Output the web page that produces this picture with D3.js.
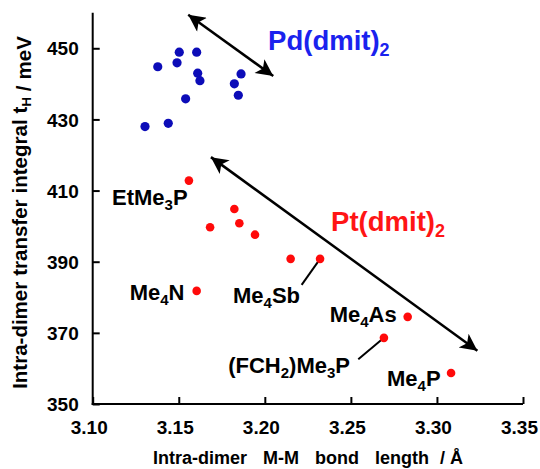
<!DOCTYPE html>
<html><head><meta charset="utf-8">
<script src="https://cdn.jsdelivr.net/npm/d3@7"></script>
<style>
html,body{margin:0;padding:0;background:#fff;}
svg{display:block;font-family:"Liberation Sans",Arial,sans-serif;font-weight:bold;}
</style></head>
<body>
<svg id="chart" width="540" height="469"></svg>
<script>
// ---- data ----
const pdX = [3.1304, 3.1439, 3.1378, 3.1503, 3.1604, 3.1490, 3.1610, 3.1623, 3.1540, 3.1862, 3.1823, 3.1846];
const pdY = [428.0, 428.9, 444.8, 448.9, 448.9, 445.9, 443.0, 440.9, 435.8, 442.8, 440.0, 436.8];
const ptX = [3.1559, 3.1823, 3.1682, 3.1852, 3.1943, 3.2150, 3.2321, 3.1604, 3.2830, 3.2692, 3.3082];
const ptY = [412.8, 404.8, 399.7, 400.8, 397.6, 390.8, 390.8, 381.8, 374.5, 368.6, 358.7];
const xTicks = [3.10, 3.15, 3.20, 3.25, 3.30, 3.35];
const yTicks = [350, 370, 390, 410, 430, 450];
// compound labels: pieces alternate normal / subscript
const labelParts = [["EtMe", "3", "P"], ["Me", "4", "N"], ["Me", "4", "Sb"], ["Me", "4", "As"], ["(FCH", "2", ")Me", "3", "P"], ["Me", "4", "P"]];
const labelX = [3.1112, 3.1215, 3.1815, 3.2377, 3.2495, 3.2710];
const labelY = [405.9, 379.2, 378.5, 373.1, 358.6, 355.1];
const labelAnchor = ["start", "start", "start", "start", "end", "start"];
// leader lines: from (x1,y1) to the point (x2,y2)
const leaderX1 = [3.2214, 3.2543];
const leaderY1 = [383.5, 362.6];
const leaderX2 = [3.2321, 3.2692];
const leaderY2 = [390.8, 368.6];
// double arrows
const arrowX1 = [3.1555, 3.1687];
const arrowY1 = [459.4, 419.4];
const arrowX2 = [3.2049, 3.3235];
const arrowY2 = [442.2, 365.0];
// series labels
const seriesName = ["Pd(dmit)", "Pt(dmit)"];
const seriesSub = ["2", "2"];
const seriesLX = [3.2019, 3.2385];
const seriesLY = [449.5, 398.5];
const seriesTextColor = ["#1a22ee", "#ff1515"];
// axis titles
const xTitleWords = ["Intra-dimer", "M-M", "bond", "length", "/ Å"];
const yTitleWords = ["Intra-dimer", "transfer", "integral", "t|H", "/", "meV"];

// ---- layout ----
const svg = d3.select("#chart");
const x = d3.scaleLinear().domain([3.10, 3.35]).range([92.7, 523]);
const y = d3.scaleLinear().domain([350, 460]).range([404, 12.7]);

// axes
const xAxis = d3.axisBottom(x).tickValues(xTicks).tickSizeInner(-7).tickSizeOuter(0).tickFormat(d3.format(".2f"));
const yAxis = d3.axisLeft(y).tickValues(yTicks).tickSizeInner(-7).tickSizeOuter(0).tickFormat(d3.format("d"));

const gx = svg.append("g").attr("transform", `translate(0,${y(350)})`).call(xAxis);
const gy = svg.append("g").attr("transform", `translate(${x(3.10)},0)`).call(yAxis);
[gx, gy].forEach(g => {
  g.select(".domain").attr("stroke", "#000").attr("stroke-width", 2);
  g.selectAll(".tick line").attr("stroke", "#000").attr("stroke-width", 2);
  g.selectAll(".tick text").attr("fill", "#000").attr("font-size", 19)
    .attr("font-family", "Liberation Sans, Arial, sans-serif").attr("font-weight", "bold");
});
gy.select(".domain").attr("d", `M0,${y(460)}V${y(350) + 1}`);
gx.select(".domain").attr("d", `M${x(3.10) - 1},0H${x(3.35)}`);
gx.selectAll(".tick text").attr("dy", null).attr("y", 30).attr("x", -4);
gy.selectAll(".tick text").attr("x", -14).attr("dy", "0.35em");

// axis titles
const xt = svg.append("text").attr("x", 308).attr("y", 464).attr("text-anchor", "middle").attr("font-size", 18);
xTitleWords.forEach((w, i) => {
  xt.append("tspan").attr("dx", i === 0 ? 0 : (i === 4 ? 11 : 16)).text(w);
});
const yt = svg.append("text").attr("transform", "translate(27,212.5) rotate(-90)")
  .attr("text-anchor", "middle").attr("font-size", 20.5);
yTitleWords.forEach((w, i) => {
  const gap = i === 0 ? 0 : 6;
  if (w.includes("|")) {
    const [a, b] = w.split("|");
    yt.append("tspan").attr("dx", gap).text(a);
    yt.append("tspan").attr("font-size", 13).attr("dy", 4).text(b);
    yt.append("tspan").attr("dy", -4).text("");
  } else {
    yt.append("tspan").attr("dx", gap).text(w);
  }
});

// arrows
const defs = svg.append("defs");
defs.append("marker").attr("id", "ah").attr("viewBox", "0 0 10 10")
  .attr("refX", 10).attr("refY", 5).attr("markerUnits", "userSpaceOnUse")
  .attr("markerWidth", 26).attr("markerHeight", 17).attr("orient", "auto-start-reverse")
  .append("path").attr("d", "M0,0 L10,5 L0,10 L2.5,5 Z").attr("fill", "#000");
svg.selectAll(".arrow").data(arrowX1).join("line").attr("class", "arrow")
  .attr("x1", (d, i) => x(arrowX1[i])).attr("y1", (d, i) => y(arrowY1[i]))
  .attr("x2", (d, i) => x(arrowX2[i])).attr("y2", (d, i) => y(arrowY2[i]))
  .attr("stroke", "#000").attr("stroke-width", 2.5)
  .attr("marker-start", "url(#ah)").attr("marker-end", "url(#ah)");

// leader lines
svg.selectAll(".leader").data(leaderX1).join("line").attr("class", "leader")
  .attr("x1", (d, i) => x(leaderX1[i])).attr("y1", (d, i) => y(leaderY1[i]))
  .attr("x2", (d, i) => x(leaderX2[i])).attr("y2", (d, i) => y(leaderY2[i]))
  .attr("stroke", "#000").attr("stroke-width", 2);

// points
svg.selectAll(".pd").data(pdX).join("circle").attr("class", "pd")
  .attr("cx", (d, i) => x(pdX[i])).attr("cy", (d, i) => y(pdY[i])).attr("r", 4.6).attr("fill", "#0c0cb8");
svg.selectAll(".pt").data(ptX).join("circle").attr("class", "pt")
  .attr("cx", (d, i) => x(ptX[i])).attr("cy", (d, i) => y(ptY[i])).attr("r", 4.3).attr("fill", "#ff0a0a");

// compound labels
labelParts.forEach((parts, i) => {
  const t = svg.append("text").attr("x", x(labelX[i])).attr("y", y(labelY[i]))
    .attr("text-anchor", labelAnchor[i]).attr("font-size", 22).attr("fill", "#000");
  parts.forEach((p, k) => {
    if (k % 2 === 1) t.append("tspan").attr("font-size", 15).attr("dy", 5).text(p);
    else t.append("tspan").attr("dy", k === 0 ? 0 : -5).text(p);
  });
});

// series labels
seriesName.forEach((n, i) => {
  const t = svg.append("text").attr("x", x(seriesLX[i])).attr("y", y(seriesLY[i]))
    .attr("font-size", 27.5).attr("fill", seriesTextColor[i]);
  t.append("tspan").text(n);
  t.append("tspan").attr("font-size", 18).attr("dy", 6).text(seriesSub[i]);
});
</script>
</body></html>
